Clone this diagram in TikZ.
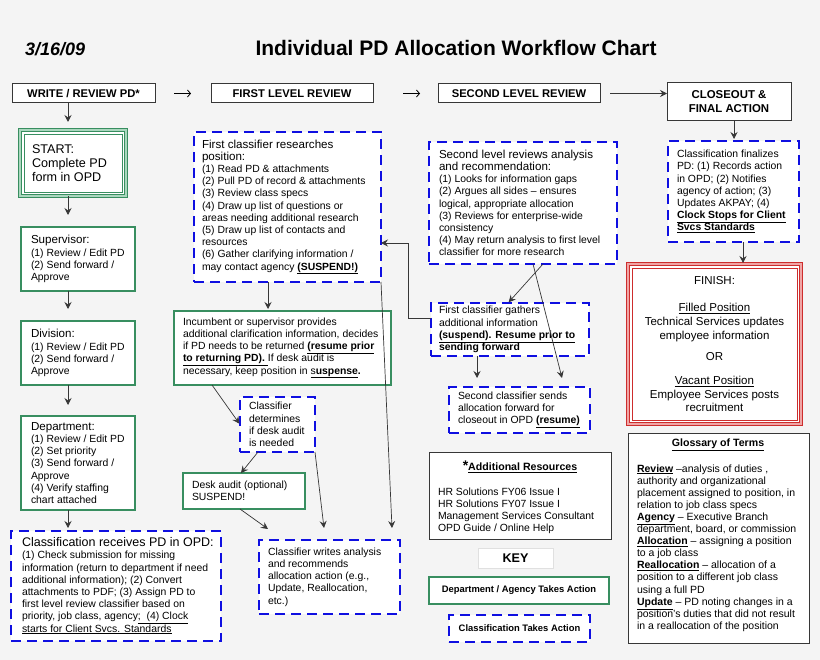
\documentclass[tikz,border=0pt]{standalone}
\usepackage{fontspec}
\setmainfont{Liberation Sans}
\usetikzlibrary{arrows.meta,calc}
\definecolor{bgc}{RGB}{244,244,244}
\definecolor{grn}{RGB}{56,142,96}
\definecolor{grnl}{RGB}{170,215,190}
\definecolor{blu}{RGB}{15,15,225}
\definecolor{redd}{RGB}{205,45,45}
\definecolor{redl}{RGB}{240,165,165}
\definecolor{ln}{RGB}{55,55,55}
\newcommand\fsb{\fontsize{10.4}{12.2}\selectfont}
\newcommand\fsh{\fontsize{11.6}{12.2}\selectfont}
\begin{document}
\begin{tikzpicture}[x=1pt,y=-1pt,
  every node/.style={inner sep=0pt,outer sep=0pt},
  shell/.style={rectangle,anchor=north west,fill=white},
  hdr/.style={shell,draw=ln,line width=1pt,font=\bfseries\fontsize{11.2}{13}\selectfont,align=center},
  gbox/.style={shell,draw=grn,line width=2.8pt},
  bbox/.style={shell,draw=blu,line width=2.6pt,dash pattern=on 10pt off 6pt},
  kbox/.style={shell,draw=ln,line width=1pt},
  txt/.style={anchor=west,align=left,font=\fsb},
  arr/.style={draw=ln,line width=0.7pt,-{Stealth[length=7pt,width=7pt,inset=2.5pt]}},
  harr/.style={draw=black,line width=0.8pt,-{Straight Barb[length=3pt,width=7pt]}}]
\fill[bgc] (0,0) rectangle (820,660);
\useasboundingbox (0,0) rectangle (820,660);

% titles
\node[anchor=west,font=\bfseries\itshape\fontsize{18}{20}\selectfont] (date) at (25,49) {3/16/09};
\node[font=\bfseries\fontsize{21}{24}\selectfont] (title) at (456,48) {Individual PD Allocation Workflow Chart};

% header boxes
\node[hdr,minimum width=143,minimum height=19] (hdr1) at (12,84) {WRITE / REVIEW PD*};
\node[hdr,minimum width=162,minimum height=19] (hdr2) at (211,84) {FIRST LEVEL REVIEW};
\node[hdr,minimum width=162,minimum height=19] (hdr3) at (438,84) {SECOND LEVEL REVIEW};
\node[hdr,minimum width=124,minimum height=38,font=\bfseries\fontsize{11.4}{14}\selectfont] (hdr4) at (667,83) {CLOSEOUT \&\\FINAL ACTION};

% column 1
\node[shell,draw=grn,line width=1pt,double=grnl,double distance=2pt,minimum width=106,minimum height=66] (start) at (20,130) {};
\draw[grn,line width=0.7pt] ($(start.north west)+(4,4)$) rectangle ($(start.south east)+(-4,-4)$);
\node[txt,font=\fontsize{12.6}{14.2}\selectfont] (start-t) at ($(start.west)+(12,0)$) {START:\\Complete PD\\form in OPD};

\node[gbox,minimum width=114,minimum height=64] (sup) at (21,227) {};
\node[txt] (sup-t) at ($(sup.west)+(10,0)$) {\fsh Supervisor:\\\fsb (1) Review / Edit PD\\(2) Send forward /\\Approve};

\node[gbox,minimum width=114,minimum height=64] (div) at (21,321) {};
\node[txt] (div-t) at ($(div.west)+(10,0)$) {\fsh Division:\\\fsb (1) Review / Edit PD\\(2) Send forward /\\Approve};

\node[gbox,minimum width=114,minimum height=94] (dept) at (21,416) {};
\node[txt] (dept-t) at ($(dept.west)+(10,0)$) {\fsh Department:\\\fsb (1) Review / Edit PD\\(2) Set priority\\(3) Send forward /\\Approve\\(4) Verify staffing\\chart attached};

\node[bbox,minimum width=210,minimum height=110] (cls) at (11,531) {};
\node[txt] (cls-t) at ($(cls.west)+(11,0)$) {\fontsize{12.5}{12.7}\selectfont Classification receives PD in OPD:\\\fsb (1) Check submission for missing\\information (return to department if need\\additional information); (2) Convert\\attachments to PDF; (3) Assign PD to\\first level review classifier based on\\priority, job class, agency\underline{;\ \ (4) Clock}\\\underline{starts for Client Svcs. Standards}};

% column 2
\node[bbox,minimum width=187,minimum height=150] (fcr) at (194,132) {};
\node[txt] (fcr-t) at ($(fcr.west)+(8,0)$) {\fsh First classifier researches\\\fsh position:\\\fsb (1) Read PD \& attachments\\(2) Pull PD of record \& attachments\\(3) Review class specs\\(4) Draw up list of questions or\\areas needing additional research\\(5) Draw up list of contacts and\\resources\\(6) Gather clarifying information /\\may contact agency \underline{\textbf{(SUSPEND!)}}};

\node[gbox,minimum width=217,minimum height=74] (inc) at (174,311) {};
\node[txt] (inc-t) at ($(inc.west)+(9,0)$) {Incumbent or supervisor provides\\additional clarification information, decides\\if PD needs to be returned \underline{\textbf{(resume prior}}\\\underline{\textbf{to returning PD).}\ }If desk audit is\\necessary, keep position in \underline{s\textbf{uspense}}\textbf{.}};

\node[bbox,minimum width=75,minimum height=55] (cdet) at (240,397) {};
\node[txt] (cdet-t) at ($(cdet.west)+(9,0)$) {Classifier\\determines\\if desk audit\\is needed};

\node[gbox,minimum width=122,minimum height=36] (desk) at (183,473) {};
\node[txt] (desk-t) at ($(desk.west)+(9,0)$) {Desk audit (optional)\\SUSPEND!};

\node[bbox,minimum width=141,minimum height=74] (cwr) at (259,540) {};
\node[txt] (cwr-t) at ($(cwr.west)+(9,0)$) {Classifier writes analysis\\and recommends\\allocation action (e.g.,\\Update, Reallocation,\\etc.)};

% column 3
\node[bbox,minimum width=188,minimum height=122] (slr) at (429,142) {};
\node[txt] (slr-t) at ($(slr.west)+(10,0)$) {\fsh Second level reviews analysis\\\fsh and recommendation:\\\fsb (1) Looks for information gaps\\(2) Argues all sides -- ensures\\logical, appropriate allocation\\(3) Reviews for enterprise-wide\\consistency\\(4) May return analysis to first level\\classifier for more research};

\node[bbox,minimum width=158,minimum height=53] (gath) at (431,303) {};
\node[txt] (gath-t) at ($(gath.west)+(8,0)$) {First classifier gathers\\additional information\\\underline{\textbf{(suspend). Resume prior to}}\\\textbf{sending forward}};

\node[bbox,minimum width=141,minimum height=46] (sent) at (449,387) {};
\node[txt] (sent-t) at ($(sent.west)+(9,0)$) {Second classifier sends\\allocation forward for\\closeout in OPD \underline{\textbf{(resume)}}};

\node[kbox,minimum width=182,minimum height=86] (res) at (429,453) {};
\node[font=\bfseries\fontsize{10.6}{12}\selectfont] (res-title) at (520,467) {{\fontsize{14}{14}\selectfont *}\underline{Additional Resources}};
\node[txt] (res-t) at (438,511) {HR Solutions FY06 Issue I\\HR Solutions FY07 Issue I\\Management Services Consultant\\OPD Guide / Online Help};

\node[shell,draw=black!12,line width=1pt,minimum width=75,minimum height=20] (key) at (478,548) {};
\node[font=\bfseries\fontsize{12.6}{14}\selectfont] (key-t) at (key.center) {KEY};

\node[gbox,minimum width=180,minimum height=27] (k1) at (429,577) {};
\node[font=\bfseries\fontsize{9.4}{11}\selectfont] (k1-t) at (k1.center) {Department / Agency Takes Action};

\node[bbox,minimum width=141,minimum height=27] (k2) at (449,615) {};
\node[font=\bfseries\fontsize{9.4}{11}\selectfont] (k2-t) at (k2.center) {Classification Takes Action};

% column 4
\node[bbox,minimum width=131,minimum height=101] (fin) at (668,141) {};
\node[txt] (fin-t) at ($(fin.west)+(9,0)$) {Classification finalizes\\PD: (1) Records action\\in OPD; (2) Notifies\\agency of action; (3)\\Updates AKPAY; (4)\\\underline{\textbf{Clock Stops for Client}}\\\underline{\textbf{Svcs Standards}}};

\node[shell,draw=redd,line width=1pt,double=redl,double distance=2pt,minimum width=173,minimum height=160] (finish) at (628,264) {};
\draw[redd,line width=0.7pt] ($(finish.north west)+(4,4)$) rectangle ($(finish.south east)+(-4,-4)$);
\node[align=center,font=\fontsize{11.5}{13.7}\selectfont] (finish-t) at (finish.center) {FINISH:\\[14pt]\underline{Filled Position}\\Technical Services updates\\employee information\\[8pt]OR\\[10pt]\underline{Vacant Position}\\Employee Services posts\\recruitment};

\node[kbox,minimum width=181,minimum height=209] (gloss) at (628,434) {};
\node[font=\bfseries\fontsize{10.6}{12}\selectfont] (gloss-title) at (718,445) {\underline{Glossary of Terms}};
\node[txt,font=\fontsize{10.5}{12.1}\selectfont] (gloss-t) at (637,548) {\underline{\textbf{Review}} --analysis of duties ,\\authority and organizational\\placement assigned to position, in\\relation to job class specs\\\underline{\textbf{Agency}} -- Executive Branch\\department, board, or commission\\\underline{\textbf{Allocation}} -- assigning a position\\to a job class\\\underline{\textbf{Reallocation}} -- allocation of a\\position to a different job class\\using a full PD\\\underline{\textbf{Update}} -- PD noting changes in a\\position’s duties that did not result\\in a reallocation of the position};

% helper coordinates
\coordinate (c1) at (68,0);
\coordinate (c2) at (268,0);
\coordinate (c3) at (734,0);
\coordinate (c4) at (743,0);
\coordinate (tdc) at (268,529);
\coordinate (tcc) at (324,528);
\coordinate (tfc) at (392,528);
\coordinate (tss) at (562,378);
\coordinate (tgs) at (477,378);

% header arrows
\draw[harr,shorten <=19pt,shorten >=20pt] (hdr1) -- (hdr2);
\draw[harr,shorten <=30pt,shorten >=18pt] (hdr2) -- (hdr3);
\draw[arr,shorten <=10pt] (hdr3.east) -- (hdr3.east -| hdr4.west);

% column 1 arrows
\draw[arr,shorten >=8pt] (hdr1.south -| c1) -- (start.north -| c1);
\draw[arr,shorten >=12pt] (start.south -| c1) -- (sup.north -| c1);
\draw[arr,shorten >=12pt] (sup.south -| c1) -- (div.north -| c1);
\draw[arr,shorten >=11pt] (div.south -| c1) -- (dept.north -| c1);
\draw[arr,shorten >=3pt] (dept.south -| c1) -- (cls.north -| c1);

% column 2 arrows
\draw[arr,shorten >=2pt] (fcr.south -| c2) -- (inc.north -| c2);
\draw[arr,shorten >=1pt] ($(inc.south west)+(38,0)$) -- (cdet.west);
\draw[arr] ($(cdet.south west)+(18,0)$) -- ($(desk.north west)+(58,0)$);
\draw[arr] ($(desk.south west)+(57,0)$) -- (tdc);
\draw[arr] (cdet.south east) -- (tcc);
\draw[arr] (fcr.south east) -- (tfc);
\draw[arr] ($(gath.north west)+(0,15)$) -- ++(-23,0) |- ($(fcr.south east)+(0,-39)$);

% column 3 arrows
\draw[arr,shorten >=1pt] ($(slr.south west)+(114,0)$) -- ($(gath.north west)+(77,0)$);
\draw[arr] ($(slr.south west)+(104,0)$) -- (tss);
\draw[arr] ($(gath.south west)+(46,0)$) -- (tgs);

% column 4 arrows
\draw[arr,shorten >=2pt] (hdr4.south -| c3) -- (fin.north -| c3);
\draw[arr,shorten >=1pt] (fin.south -| c4) -- (finish.north -| c4);
\end{tikzpicture}
\end{document}
